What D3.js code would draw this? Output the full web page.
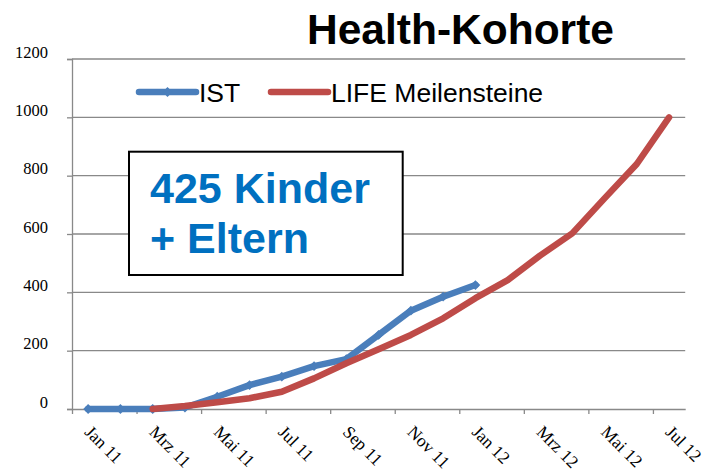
<!DOCTYPE html>
<html>
<head>
<meta charset="utf-8">
<script src="https://cdn.jsdelivr.net/npm/d3@7/dist/d3.min.js"></script>
<style>
  html, body { margin: 0; padding: 0; background: #fff; }
  svg { display: block; }
</style>
</head>
<body>
<svg id="chart" width="711" height="473"></svg>
<script>
// Monthly categories from Jan 2011 to Jul 2012
const months = ["Jan 11","Feb 11","Mrz 11","Apr 11","Mai 11","Jun 11","Jul 11","Aug 11","Sep 11","Okt 11","Nov 11","Dez 11",
                "Jan 12","Feb 12","Mrz 12","Apr 12","Mai 12","Jun 12","Jul 12"];
// Recruited participants so far (IST), Jan 11 .. Jan 12
const istValues = [0, 0, 0, 5, 42, 82, 111, 147, 171, 254, 337, 385, 425];
// Planned milestones (LIFE Meilensteine), starting Mrz 11
const lifeValues = [null, null, 0, 10, 23, 37, 59, 105, 157, 205, 254, 311, 380, 442, 526, 602, 722, 840, 1000];
const yTicks = [0, 200, 400, 600, 800, 1000, 1200];
const seriesNames = ["IST", "LIFE Meilensteine"];
const chartTitle = "Health-Kohorte";
const noteLines = ["425 Kinder", "+ Eltern"];

const BLUE = "#4a7ebb", RED = "#be4b48", GRID = "#898989";
const svg = d3.select("#chart");

const plotLeft = 72, plotRight = 685.2, plotTop = 59, plotBottom = 409;
const x = d3.scaleBand().domain(months).range([plotLeft, plotRight]);
const cx = m => x(m) + x.bandwidth() / 2;
const xEdge = d3.scaleLinear().domain([0, months.length]).range([plotLeft, plotRight]);
const y = d3.scaleLinear().domain([0, 1200]).range([plotBottom, plotTop]);

// horizontal gridlines
svg.append("g").selectAll("line").data(yTicks.filter(v => v > 0)).join("line")
  .attr("x1", plotLeft).attr("x2", plotRight)
  .attr("y1", d => y(d)).attr("y2", d => y(d))
  .attr("stroke", GRID).attr("stroke-width", 1.3);

// y axis
const yAxis = svg.append("g").attr("transform", `translate(${plotLeft},0)`)
  .call(d3.axisLeft(y).tickValues(yTicks).tickFormat(d3.format("d")).tickSize(5).tickPadding(19));
yAxis.select(".domain").attr("stroke", GRID).attr("stroke-width", 1.3);
yAxis.selectAll(".tick line").attr("stroke", GRID).attr("stroke-width", 1.3);
yAxis.selectAll("text").attr("font-family", "Liberation Serif, serif").attr("font-size", 16.5)
  .attr("fill", "#000").attr("dy", null).attr("y", -2);

// x axis: ticks on category edges, every second month
const xAxis = svg.append("g").attr("transform", `translate(0,${plotBottom})`)
  .call(d3.axisBottom(xEdge).tickValues(d3.range(0, months.length, 2)).tickSize(5).tickSizeOuter(0).tickFormat(""));
xAxis.select(".domain").attr("stroke", GRID).attr("stroke-width", 1.3);
xAxis.selectAll(".tick line").attr("stroke", GRID).attr("stroke-width", 1.3);

// rotated month labels
svg.append("g").selectAll("text").data(months.filter((m, i) => i % 2 === 0)).join("text")
  .attr("transform", d => `translate(${cx(d) - 4.5},433) rotate(45)`)
  .attr("font-family", "Liberation Serif, serif").attr("font-size", 17.5)
  .attr("text-anchor", "start").attr("fill", "#000")
  .text(d => d);

// series lines
const line = d3.line().defined(d => d.v != null).x(d => cx(d.m)).y(d => y(d.v));
const istData = istValues.map((v, i) => ({ m: months[i], v }));
const lifeData = lifeValues.map((v, i) => ({ m: months[i], v }));

svg.append("path").datum(istData).attr("d", line)
  .attr("fill", "none").attr("stroke", BLUE).attr("stroke-width", 6.5)
  .attr("stroke-linejoin", "round").attr("stroke-linecap", "round");
const diamond = d3.symbol().type(d3.symbolSquare).size(48);
svg.append("g").selectAll("path").data(istData).join("path")
  .attr("d", diamond)
  .attr("transform", d => `translate(${cx(d.m)},${y(d.v)}) rotate(45)`)
  .attr("fill", BLUE);

svg.append("path").datum(lifeData).attr("d", line)
  .attr("fill", "none").attr("stroke", RED).attr("stroke-width", 6.5)
  .attr("stroke-linejoin", "round").attr("stroke-linecap", "round");

// legend
const legend = svg.append("g");
const legendItems = [
  { name: seriesNames[0], color: BLUE, x0: 139, x1: 196, tx: 199, marker: true },
  { name: seriesNames[1], color: RED, x0: 271, x1: 328, tx: 331, marker: false }
];
legendItems.forEach(it => {
  legend.append("line").attr("x1", it.x0).attr("x2", it.x1).attr("y1", 92).attr("y2", 92)
    .attr("stroke", it.color).attr("stroke-width", 6.5).attr("stroke-linecap", "round");
  if (it.marker) legend.append("path").attr("d", diamond)
    .attr("transform", `translate(${(it.x0 + it.x1) / 2},92) rotate(45)`).attr("fill", it.color);
  legend.append("text").attr("x", it.tx).attr("y", 101.5)
    .attr("font-family", "Liberation Sans, Arial, sans-serif").attr("font-size", 26.5).attr("fill", "#000")
    .text(it.name);
});

// title
svg.append("text").attr("x", 307).attr("y", 44)
  .attr("font-family", "Liberation Sans, Arial, sans-serif").attr("font-size", 42.5).attr("font-weight", "bold")
  .attr("fill", "#000").text(chartTitle);

// annotation box
const note = svg.append("g");
note.append("rect").attr("x", 129).attr("y", 151.7).attr("width", 273.7).attr("height", 123.3)
  .attr("fill", "#fff").attr("stroke", "#000").attr("stroke-width", 2);
note.selectAll("text").data(noteLines).join("text")
  .attr("x", 150).attr("y", (d, i) => 203.3 + i * 50)
  .attr("font-family", "Liberation Sans, Arial, sans-serif").attr("font-size", 43).attr("font-weight", "bold")
  .attr("fill", "#0070c0").text(d => d);
</script>
</body>
</html>
